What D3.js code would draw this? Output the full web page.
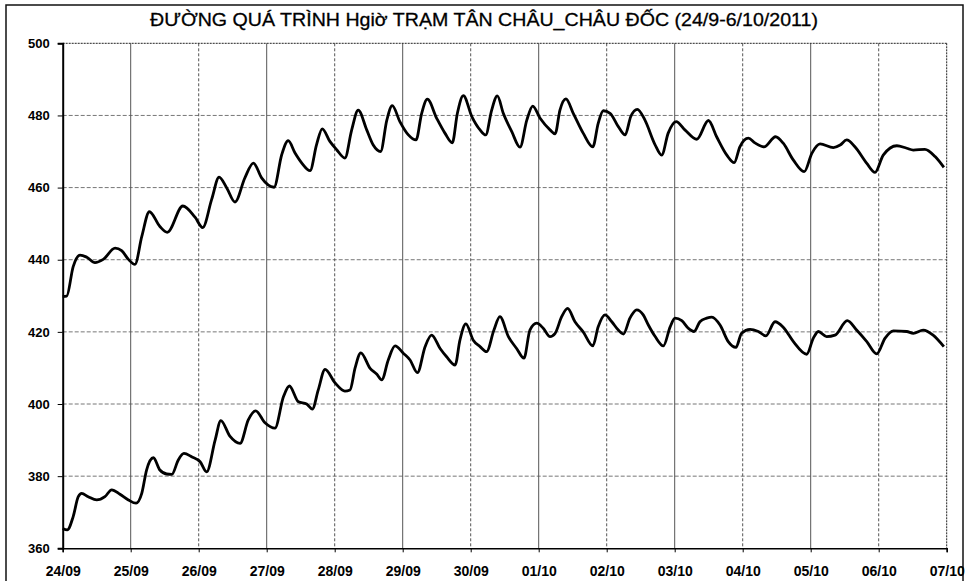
<!DOCTYPE html>
<html>
<head>
<meta charset="utf-8">
<script src="https://cdn.jsdelivr.net/npm/d3@7"></script>
<style>
  body { margin: 0; background: #fff; }
  svg { display: block; }
</style>
</head>
<body>
<div id="chart"></div>
<script>
var width = 965, height = 581;
var plotL = 62.7, plotR = 946.7, plotT = 43.3, plotB = 548.3;

var titleText = 'ĐƯỜNG QUÁ TRÌNH Hgiờ TRẠM TÂN CHÂU_CHÂU ĐỐC (24/9-6/10/2011)';
var dayLabels = ['24/09','25/09','26/09','27/09','28/09','29/09','30/09','01/10','02/10','03/10','04/10','05/10','06/10','07/10'];
var yTicks = [360, 380, 400, 420, 440, 460, 480, 500];

// hours since 24/09 00:00
var hoursUp = [0, 1.4, 3.7, 6.1, 8.5, 11.4, 14.3, 18.5, 20.8, 23.2, 25.5, 27.9, 30.6, 34.3, 36.9, 42.4, 46.7, 49.4,
  52.6, 55.2, 57.9, 60.8, 64.3, 67.3, 70.2, 74.6, 77.3, 79.6, 82.0, 84.4, 87.3, 89.6, 91.6, 94.3, 96.7, 99.6,
  102.0, 104.3, 107.3, 109.6, 112.2, 114.4, 116.3, 119.0, 122.0, 124.7, 126.7, 128.7, 132.0, 134.9, 137.5,
  139.3, 141.4, 144.4, 147.3, 149.3, 151.4, 153.4, 155.5, 158.5, 161.4, 163.8, 165.9, 168.5, 172.0, 173.8,
  175.5, 177.6, 180.2, 183.7, 187.1, 189.0, 190.8, 193.2, 196.1, 198.5, 200.5, 202.8, 205.5, 209.0, 211.4,
  213.7, 216.5, 219.6, 223.8, 227.9, 230.8, 234.4, 237.0, 239.0, 242.0, 244.3, 247.5, 251.6, 254.3, 257.9,
  261.7, 264.4, 267.3, 272.0, 274.4, 276.7, 279.6, 283.8, 286.7, 289.6, 294.4, 297.9, 300.2, 304.3, 307.9, 311];
var valuesUp = [429.8, 429.9, 438.1, 441.3, 440.7, 439.2, 440.1, 443.2, 442.5, 440.1, 438.7, 446.4, 453.3, 449.2, 447.6, 454.9, 451.8, 448.9,
  456.8, 462.9, 459.9, 456.0, 462.7, 466.8, 462.7, 460.1, 469.1, 473.0, 469.6, 466.8, 464.7, 471.9, 476.3, 472.8, 470.5, 468.2,
  476.0, 481.5, 476.0, 471.8, 470.0, 478.7, 482.7, 478.3, 474.6, 473.2, 480.6, 484.5, 479.2, 475.1, 472.4,
  480.6, 485.5, 479.7, 476.0, 474.6, 481.5, 485.4, 480.6, 475.5, 471.2, 478.7, 482.6, 479.2, 476.0, 474.9,
  481.5, 484.6, 480.6, 475.1, 471.3, 477.8, 481.3, 480.6, 476.9, 474.6, 479.7, 481.7, 478.7, 472.0, 469.0,
  475.1, 478.3, 476.0, 473.4, 478.6, 474.1, 469.0, 466.9, 471.3, 473.7, 472.4, 471.3, 474.1, 472.3, 467.6,
  464.4, 469.5, 472.1, 471.1, 471.8, 473.2, 471.3, 466.7, 464.2, 469.0, 471.6, 470.9, 470.4, 470.6, 468.6, 465.6];

var hoursLow = [0, 1.6, 3.7, 5.5, 6.7, 9.0, 12.0, 14.9, 17.3, 20.2, 23.2, 25.9, 27.9, 29.6, 32.0, 34.3, 36.7, 38.5,
  40.8, 42.8, 45.5, 48.5, 50.8, 53.8, 55.8, 59.0, 62.6, 65.5, 68.1, 71.4, 74.9, 77.9, 80.0, 83.2, 86.1, 88.1,
  90.2, 92.6, 96.1, 99.6, 101.4, 103.2, 105.2, 108.5, 110.8, 112.6, 114.9, 117.3, 120.2, 122.6, 125.2, 127.9,
  130.2, 133.2, 135.5, 138.5, 140.2, 142.3, 144.9, 147.3, 149.6, 152.2, 154.3, 157.3, 160.2, 162.8, 164.9,
  167.3, 169.6, 172.0, 173.8, 176.1, 178.2, 180.8, 183.7, 187.1, 189.0, 191.4, 193.8, 196.1, 197.9, 200.2,
  202.6, 204.9, 206.7, 209.1, 212.0, 214.4, 216.1, 218.5, 220.8, 222.8, 224.9, 227.3, 229.1, 232.0, 234.9,
  237.6, 239.6, 242.6, 245.5, 248.2, 251.4, 254.3, 257.9, 262.6, 264.9, 266.7, 269.6, 272.6, 276.9, 280.2,
  283.8, 287.3, 290.2, 293.2, 297.9, 300.2, 303.7, 307.2, 311];
var valuesLow = [365.5, 365.1, 368.8, 374.3, 375.2, 374.3, 373.4, 374.3, 376.2, 375.0, 373.4, 372.5, 375.2, 381.7, 385.1, 381.7, 380.6, 380.5,
  384.5, 386.3, 385.4, 384.0, 381.2, 390.0, 395.4, 391.1, 389.1, 395.6, 398.1, 394.8, 393.3, 402.0, 405.0, 400.6, 400.0, 398.6,
  403.9, 409.6, 405.9, 403.6, 403.9, 410.0, 414.2, 409.9, 408.3, 406.7, 412.2, 416.1, 414.1, 412.2, 408.7, 415.9,
  419.1, 415.4, 413.1, 410.8, 417.7, 422.2, 417.7, 415.9, 414.5, 420.5, 424.2, 418.7, 415.4, 412.7, 420.5,
  422.4, 421.0, 418.7, 419.6, 424.2, 426.5, 422.8, 420.0, 416.1, 421.4, 424.7, 422.8, 420.5, 419.4, 423.8,
  426.1, 424.7, 421.9, 418.7, 416.1, 421.4, 423.8, 423.1, 421.0, 420.1, 422.8, 423.8, 424.1, 421.9, 417.3,
  415.7, 419.6, 420.7, 420.1, 418.9, 422.8, 421.3, 417.3, 413.8, 418.2, 420.1, 418.7, 419.1, 423.1, 420.5,
  417.3, 413.9, 418.2, 420.3, 420.1, 419.6, 420.5, 419.1, 415.9];

let svg = d3.select('#chart')
  .append('svg')
  .attr('width', width)
  .attr('height', height)
  .style('font-family', '"Liberation Sans", Arial, sans-serif');

let x = d3.scaleLinear().domain([0, 312]).range([plotL, plotR]);
let y = d3.scaleLinear().domain([360, 500]).range([plotB, plotT]);

// outer chart frame
svg.append('rect')
  .attr('x', 6).attr('y', 5)
  .attr('width', 957).attr('height', 600)
  .attr('fill', 'none')
  .attr('stroke', '#111')
  .attr('stroke-width', 1.5);

// title (narrow look of the scan)
svg.append('text')
  .attr('x', 484).attr('y', 26)
  .attr('text-anchor', 'middle')
  .attr('font-size', 19)
  .attr('textLength', 668)
  .attr('lengthAdjust', 'spacingAndGlyphs')
  .attr('fill', '#000')
  .attr('stroke', '#000')
  .attr('stroke-width', 0.3)
  .text(titleText);

// grid
svg.append('g')
  .selectAll('line')
  .data(yTicks.slice(1, -1))
  .enter()
  .append('line')
  .attr('x1', plotL).attr('x2', plotR)
  .attr('y1', d => y(d)).attr('y2', d => y(d))
  .attr('stroke', '#777')
  .attr('stroke-dasharray', '4,2');

svg.append('g')
  .selectAll('line')
  .data(d3.range(1, 13))
  .enter()
  .append('line')
  .attr('x1', d => x(d * 24)).attr('x2', d => x(d * 24))
  .attr('y1', plotT).attr('y2', plotB)
  .attr('stroke', '#555')
  .attr('stroke-dasharray', (d, i) => i % 2 ? '3,2' : null);

// plot frame (top + right dotted in the scan)
svg.append('line')
  .attr('x1', plotL).attr('x2', plotR).attr('y1', plotT).attr('y2', plotT)
  .attr('stroke', '#222').attr('stroke-dasharray', '2,1');
svg.append('line')
  .attr('x1', plotR).attr('x2', plotR).attr('y1', plotT).attr('y2', plotB)
  .attr('stroke', '#222').attr('stroke-dasharray', '2,1');

// axes
let yAxis = d3.axisLeft(y).tickValues(yTicks).tickSize(5).tickPadding(8);
let xAxis = d3.axisBottom(x)
  .tickValues(d3.range(0, 14).map(d => d * 24))
  .tickFormat((d, i) => dayLabels[i])
  .tickSize(4).tickPadding(14);

let gy = svg.append('g')
  .attr('transform', `translate(${plotL}, 0)`)
  .call(yAxis);
gy.select('.domain').attr('stroke', '#000').attr('stroke-width', 2);
gy.selectAll('text').attr('font-size', 13).attr('font-weight', 'bold').attr('fill', '#000')
  .attr('font-family', '"Liberation Sans", Arial, sans-serif');

let gx = svg.append('g')
  .attr('transform', `translate(0, ${plotB})`)
  .call(xAxis);
gx.select('.domain').attr('stroke', '#000').attr('stroke-width', 1.5);
gx.selectAll('text').attr('font-size', 14).attr('font-weight', 'bold').attr('fill', '#000')
  .attr('font-family', '"Liberation Sans", Arial, sans-serif');

// the two water level lines
let line = d3.line()
  .x(d => x(d[0]))
  .y(d => y(d[1]))
  .curve(d3.curveMonotoneX);

let series = [d3.zip(hoursUp, valuesUp), d3.zip(hoursLow, valuesLow)];

svg.selectAll('path.level')
  .data(series)
  .enter()
  .append('path')
  .attr('class', 'level')
  .attr('d', line)
  .attr('fill', 'none')
  .attr('stroke', '#000')
  .attr('stroke-width', 2.8)
  .attr('stroke-linejoin', 'round');
</script>
</body>
</html>
